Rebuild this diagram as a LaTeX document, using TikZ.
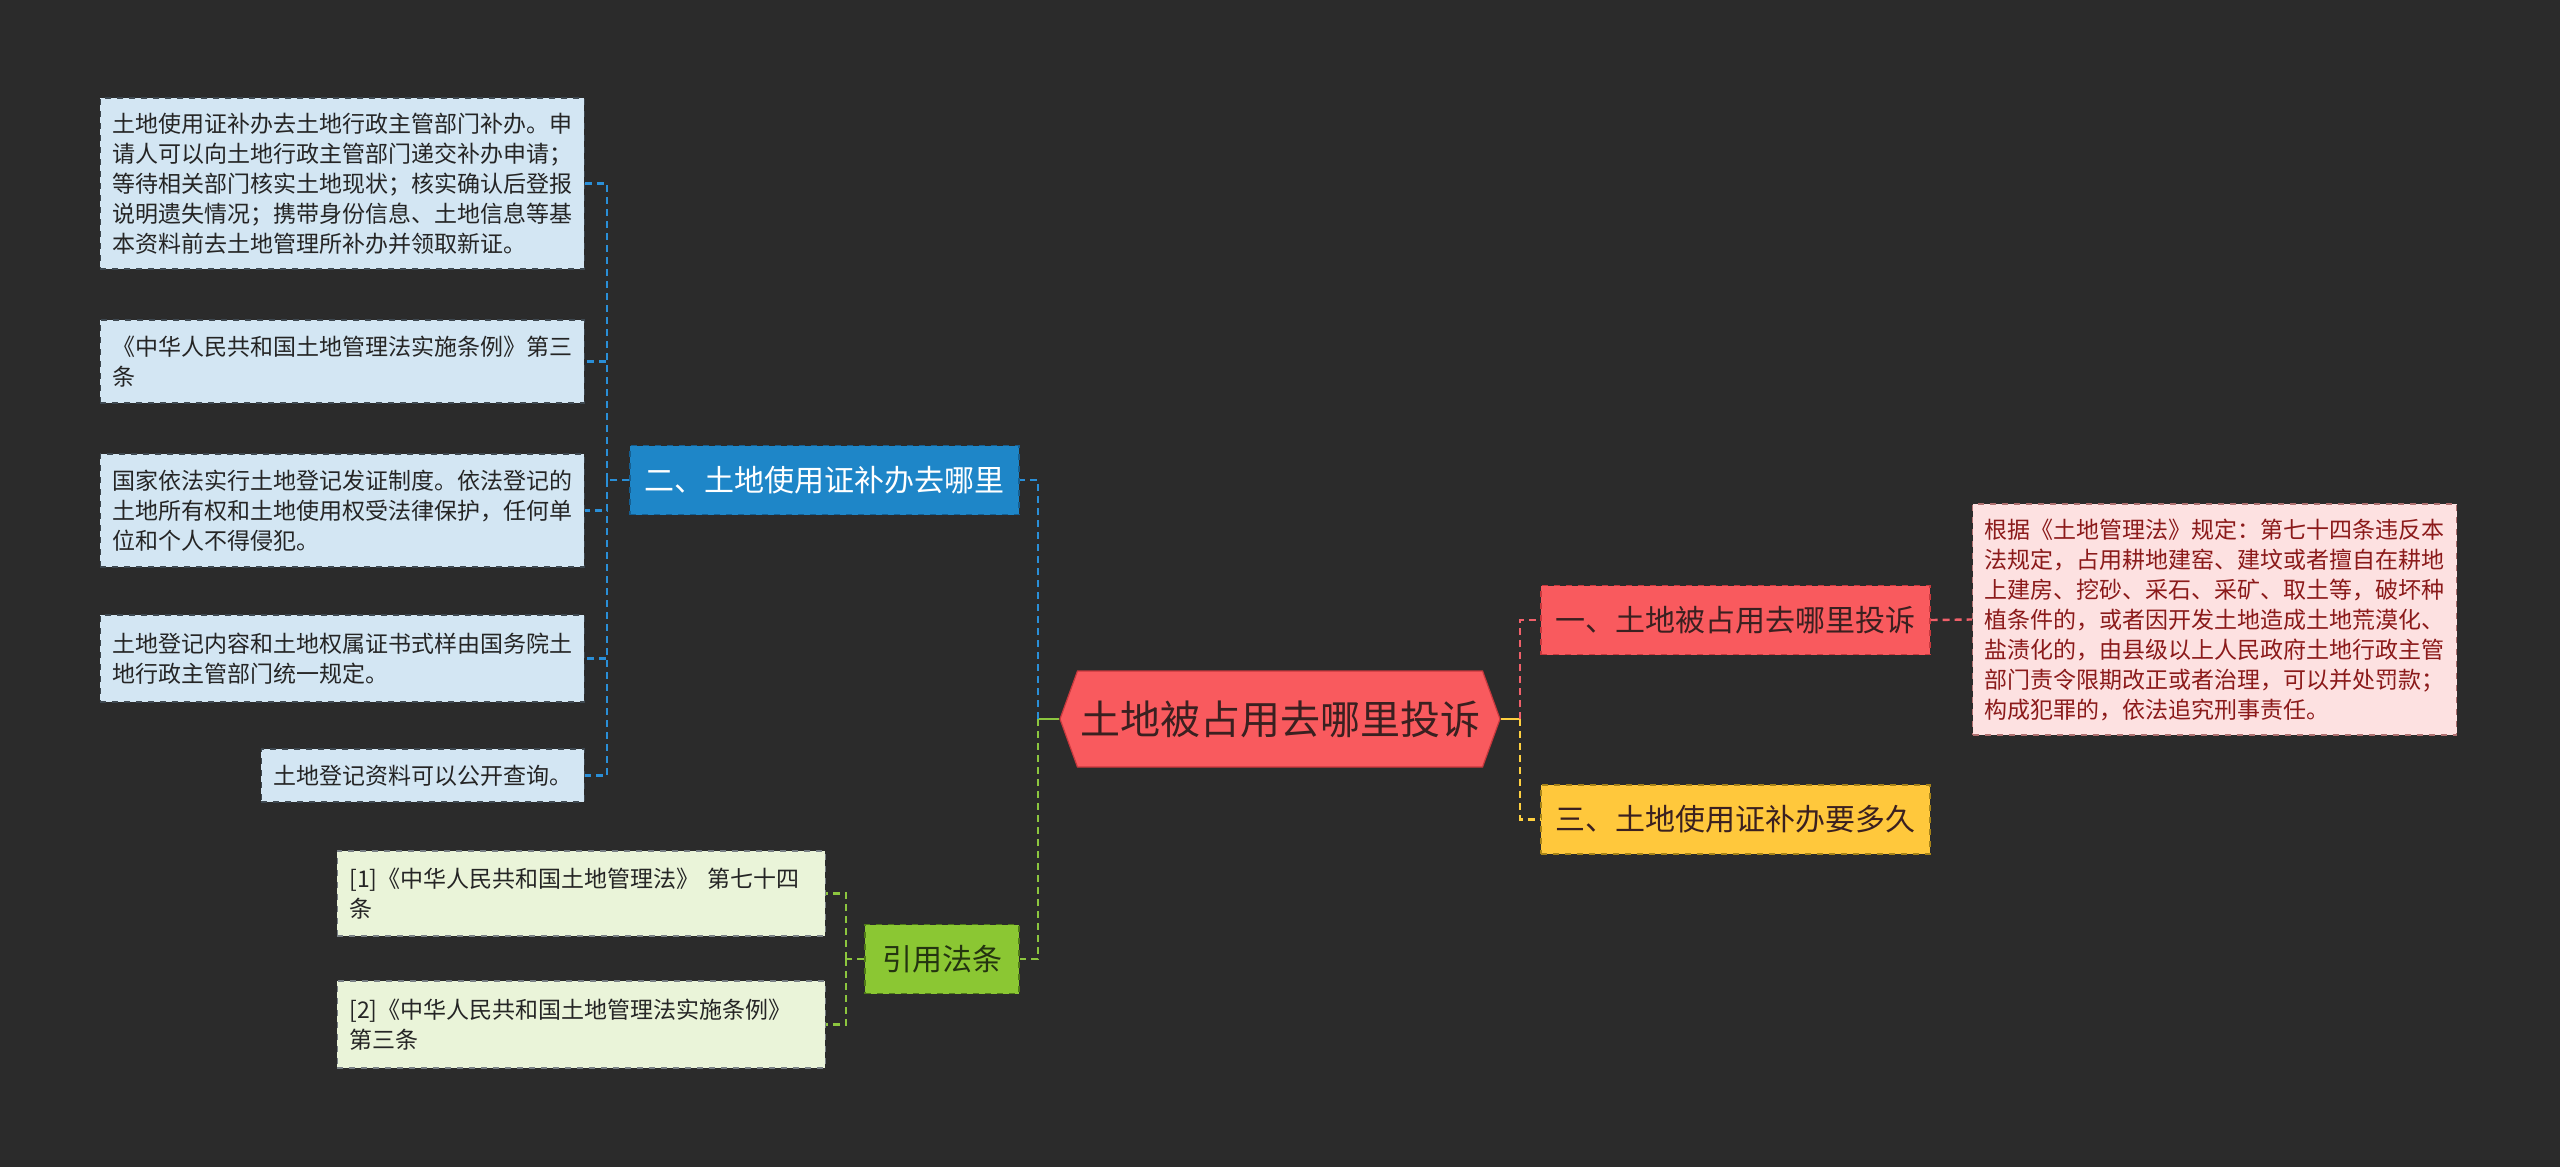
\documentclass[tikz,border=0pt]{standalone}
\usepackage{fontspec}
\setmainfont{Noto Sans CJK SC}
\usepackage{tikz}
\usetikzlibrary{positioning, shapes.symbols}

\definecolor{bgcol}{HTML}{2B2B2B}
\definecolor{redmain}{HTML}{F95A5E}
\definecolor{reddark}{HTML}{C8383D}
\definecolor{redleaf}{HTML}{FDE1E1}
\definecolor{redleafline}{HTML}{B07070}
\definecolor{redtext}{HTML}{8B1A1A}
\definecolor{redline}{HTML}{F0606A}
\definecolor{bluemain}{HTML}{1E86C8}
\definecolor{bluedark}{HTML}{155F92}
\definecolor{blueleaf}{HTML}{D3E6F3}
\definecolor{blueline}{HTML}{2A8FD8}
\definecolor{greenmain}{HTML}{8BC733}
\definecolor{greendark}{HTML}{4F7A18}
\definecolor{greenleaf}{HTML}{EAF4D9}
\definecolor{greenline}{HTML}{8CC63F}
\definecolor{greentext}{HTML}{243410}
\definecolor{yellowmain}{HTML}{FFC83C}
\definecolor{yellowdark}{HTML}{A88418}
\definecolor{yellowline}{HTML}{FFD040}
\definecolor{darktext}{HTML}{3A2020}
\definecolor{leaftext}{HTML}{252525}
\definecolor{leafline}{HTML}{3E4850}

\begin{document}
\begin{tikzpicture}[
  x=0.5pt, y=-0.5pt,
  rootbox/.style={shape=signal, signal to=east and west, signal pointer angle=140,
                  fill=redmain, draw=reddark, line width=0.6pt, inner sep=0pt,
                  minimum width=220pt, minimum height=48pt, text=darktext,
                  font=\fontsize{20}{24}\selectfont},
  branchbox/.style={draw, dashed, line width=0.6pt, inner xsep=7pt, inner ysep=0pt,
                    minimum height=34.5pt, font=\fontsize{15}{18}\selectfont},
  leafbox/.style={draw=leafline, dashed, line width=0.7pt, align=left, text=leaftext,
                  inner xsep=6pt, inner ysep=0pt, font=\fontsize{11.5}{15}\selectfont},
  link/.style={line width=1.2pt, dash pattern=on 3.5pt off 2.5pt},
]
  \fill[bgcol] (0, 0) rectangle (2560, 1167);

  \node[rootbox] (root) at (1280, 719) {土地被占用去哪里投诉};

  % right side
  \node[branchbox, fill=redmain, draw=reddark, text=darktext, minimum width=194.5pt]
       (whom) at (1735.5, 620) {一、土地被占用去哪里投诉};
  \node[branchbox, fill=yellowmain, draw=yellowdark, text=darktext, minimum width=194.5pt]
       (howlong) at (1735.5, 819.5) {三、土地使用证补办要多久};
  \node[leafbox, fill=redleaf, draw=redleafline, text=redtext, anchor=west,
        minimum height=115.5pt] (art74) at (1972, 619.5)
       {根据《土地管理法》规定：第七十四条违反本\\
        法规定，占用耕地建窑、建坟或者擅自在耕地\\
        上建房、挖砂、采石、采矿、取土等，破坏种\\
        植条件的，或者因开发土地造成土地荒漠化、\\
        盐渍化的，由县级以上人民政府土地行政主管\\
        部门责令限期改正或者治理，可以并处罚款；\\
        构成犯罪的，依法追究刑事责任。};

  % left side
  \node[branchbox, fill=bluemain, draw=bluedark, text=white, minimum width=194.5pt]
       (where) at (824.5, 480) {二、土地使用证补办去哪里};
  \node[branchbox, fill=greenmain, draw=greendark, text=greentext, minimum width=77pt]
       (cite) at (942, 959) {引用法条};

  \node[leafbox, fill=blueleaf, anchor=east, minimum height=85.5pt] (bl1) at (585, 183.5)
       {土地使用证补办去土地行政主管部门补办。申\\
        请人可以向土地行政主管部门递交补办申请；\\
        等待相关部门核实土地现状；核实确认后登报\\
        说明遗失情况；携带身份信息、土地信息等基\\
        本资料前去土地管理所补办并领取新证。};
  \node[leafbox, fill=blueleaf, anchor=east, minimum height=41.5pt] (bl2) at (585, 361.5)
       {《中华人民共和国土地管理法实施条例》第三\\条};
  \node[leafbox, fill=blueleaf, anchor=east, minimum height=56.5pt] (bl3) at (585, 510.5)
       {国家依法实行土地登记发证制度。依法登记的\\
        土地所有权和土地使用权受法律保护，任何单\\
        位和个人不得侵犯。};
  \node[leafbox, fill=blueleaf, anchor=east, minimum height=43.5pt] (bl4) at (585, 658.5)
       {土地登记内容和土地权属证书式样由国务院土\\地行政主管部门统一规定。};
  \node[leafbox, fill=blueleaf, anchor=east, minimum height=26.5pt] (bl5) at (585, 775.5)
       {土地登记资料可以公开查询。};

  \node[leafbox, fill=greenleaf, draw=leafline!70, anchor=east, text width=232pt,
        minimum height=42.5pt] (gl1) at (826, 893.5)
       {[1]《中华人民共和国土地管理法》 第七十四\\条};
  \node[leafbox, fill=greenleaf, draw=leafline!70, anchor=east, text width=232pt,
        minimum height=43.5pt] (gl2) at (826, 1024.5)
       {[2]《中华人民共和国土地管理法实施条例》\\第三条};

  \coordinate (lj) at (1038, 719);
  \coordinate (rj) at (1520, 719);
  \coordinate (bj) at (607, 480);
  \coordinate (gj) at (846, 959);

  \draw[greenline, line width=1.3pt] (root.west) -- (lj);
  \draw[yellowline, line width=1.3pt] (root.east) -- (rj);
  \draw[link, blueline] (lj) |- (where.east);
  \draw[link, greenline] (lj) |- (cite.east);
  \draw[link, redline] (rj) |- (whom.west);
  \draw[link, yellowline] (rj) |- (howlong.west);
  \draw[link, redline] (whom.east) -- (art74.west);

  \draw[link, blueline] (where.west) -- (bj);
  \draw[link, blueline] (bj) |- (bl1.east);
  \draw[link, blueline] (bj) |- (bl2.east);
  \draw[link, blueline] (bj) |- (bl3.east);
  \draw[link, blueline] (bj) |- (bl4.east);
  \draw[link, blueline] (bj) |- (bl5.east);

  \draw[link, greenline] (cite.west) -- (gj);
  \draw[link, greenline] (gj) |- (gl1.east);
  \draw[link, greenline] (gj) |- (gl2.east);
\end{tikzpicture}
\end{document}
